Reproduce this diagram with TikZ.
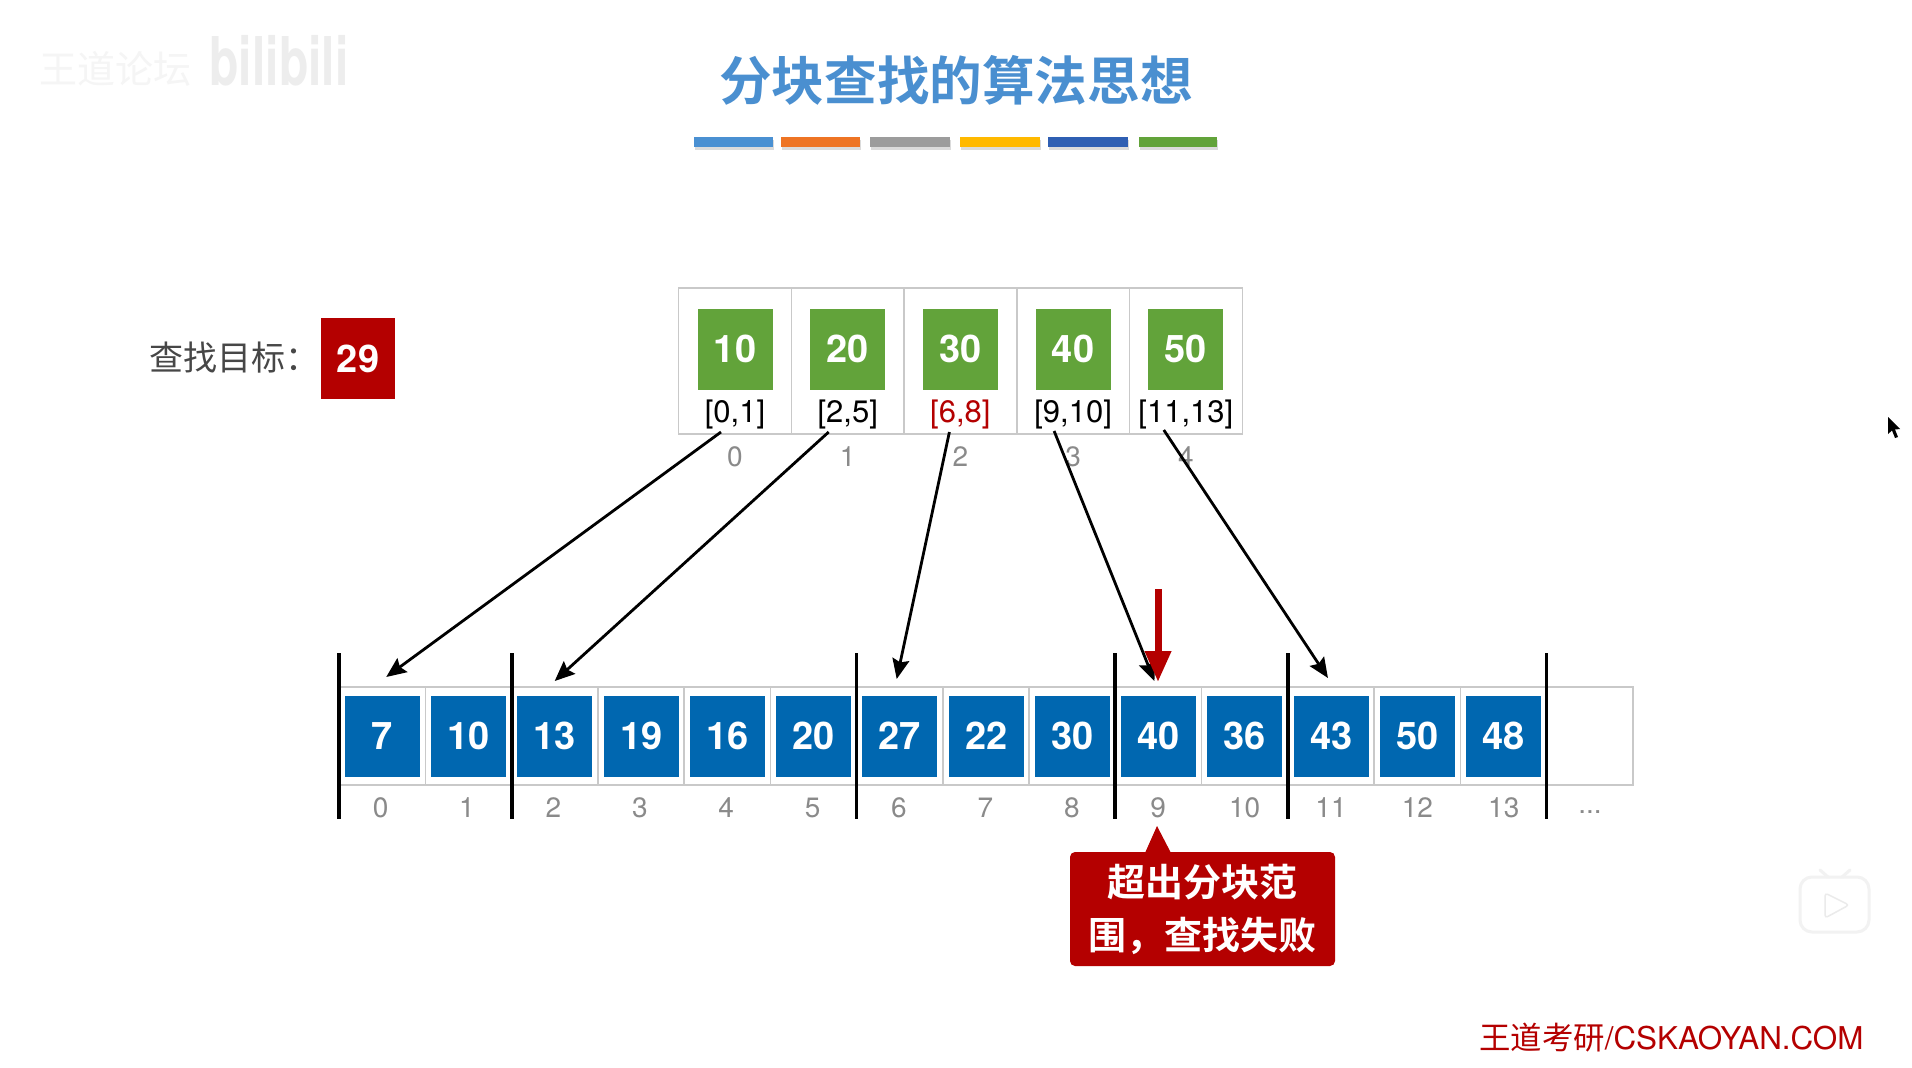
\documentclass[tikz,border=0pt]{standalone}
\usepackage{fontspec}
\setmainfont{TeX Gyre Heros}
\newfontfamily\cjk{Noto Sans CJK SC}
\newfontfamily\cjkb{Noto Sans CJK SC Bold}
\usetikzlibrary{arrows.meta,shapes.geometric}
\definecolor{titleblue}{HTML}{4A8FD0}
\definecolor{arrblue}{HTML}{0067B0}
\definecolor{idxgreen}{HTML}{62A33A}
\definecolor{darkred}{HTML}{B40000}
\definecolor{gridgray}{HTML}{C9C9C9}
\definecolor{idxgray}{HTML}{8A8A8A}
\newcommand{\fsz}[1]{\fontsize{#1}{#1}\selectfont}
\newcommand{\dn}[1]{\raisebox{-2.6pt}{#1}}
\tikzset{
  gridcell/.style={draw=gridgray,line width=1.4pt,fill=white,inner sep=0pt,outer sep=0pt},
  valbox/.style={inner sep=0pt,outer sep=0pt,minimum width=75pt,minimum height=81pt,text=white,font=\fsz{38}\bfseries},
  rangelabel/.style={inner sep=0pt,font=\fsz{31}},
  idxlabel/.style={inner sep=0pt,text=idxgray,font=\fsz{28}},
  sep/.style={line width=3.2pt,black},
  linkarrow/.style={line width=2.8pt,black,-{Stealth[length=20pt,width=17pt,inset=3pt]}},
}
\begin{document}
\begin{tikzpicture}[x=1pt,y=-1pt]
\useasboundingbox (0,0) rectangle (1912,1068);
\fill[white] (0,0) rectangle (1912,1068);

% faint watermarks
\node[inner sep=0pt,text=black!4,font=\fsz{38}\cjk] (wmA) at (115,69) {王道论坛};
\node[inner sep=0pt,text=black!7,font=\fsz{48}\bfseries] (wmB) at (279,61) {\scalebox{1}[1.4]{bilibili}};

% title
\node[inner sep=0pt,text=titleblue,font=\fsz{52.6}\cjkb] (title) at (956,80) {分块查找的算法思想};
\foreach \n/\xa/\xb/\c in {a/694/773/4A90D2,b/781/860/EE7424,c/870/950/9C9C9C,d/960/1040/FFB900,e/1048/1128/2F5FB3,f/1139/1217/62A33A}{
  \definecolor{barcol}{HTML}{\c}
  \fill[black!14] (\xa+1,139.5) rectangle (\xb+1,149.5);
  \fill[barcol] (\xa,137) rectangle (\xb,147);
}

% target
\node[inner sep=0pt,anchor=west,text=black!72,font=\fsz{34}\cjk] (tlabel) at (149,358) {查找目标：};
\node[inner sep=0pt,fill=darkred,minimum width=74pt,minimum height=81pt,text=white,font=\fsz{38}\bfseries] (target) at (358,358.5) {\dn{29}};

% index table
\foreach \i/\v in {0/10,1/20,3/40,4/50,2/30}{
  \pgfmathsetmacro{\cx}{735+112.7*\i}
  \node[gridcell,minimum width=112.8pt,minimum height=146pt] (t\i) at (\cx,361) {};
  \node[valbox,fill=idxgreen] (g\i) at (\cx,349) {\dn{\v}};
  \node[idxlabel] (ti\i) at (\cx,457) {\i};
}
\foreach \i/\r/\c in {0/{[0,1]}/black,1/{[2,5]}/black,2/{[6,8]}/darkred,3/{[9,10]}/black,4/{[11,13]}/black}{
  \pgfmathsetmacro{\cx}{735+112.7*\i}
  \node[rangelabel,text=\c] (r\i) at (\cx,414.5) {\r};
}

% main array
\foreach \i in {0,...,14}{
  \pgfmathsetmacro{\cx}{382.2+86.25*\i}
  \node[gridcell,minimum width=86.25pt,minimum height=98pt] (c\i) at (\cx,736) {};
}
\foreach \i/\v in {0/7,1/10,2/13,3/19,4/16,5/20,6/27,7/22,8/30,9/40,10/36,11/43,12/50,13/48}{
  \pgfmathsetmacro{\cx}{382.4+86.25*\i}
  \pgfmathsetmacro{\lx}{380.6+86.4*\i}
  \node[valbox,fill=arrblue] (b\i) at (\cx,736) {\dn{\v}};
  \node[idxlabel] (ci\i) at (\lx,808) {\i};
}
\node[idxlabel] (cdots) at (1590,812) {...};

% block separators
\foreach \i/\x in {0/339,1/512,2/856.5,3/1115,4/1288,5/1546.5}{
  \coordinate (st\i) at (\x,653);
  \coordinate (sb\i) at (\x,819);
  \draw[sep] (st\i) -- (sb\i);
}

% links
\draw[linkarrow] ([xshift=-14pt,yshift=2pt]t0.south) -- ([xshift=4pt,yshift=10pt]c0.north);
\draw[linkarrow] ([xshift=-19pt,yshift=2pt]t1.south) -- ([xshift=0pt,yshift=6pt]c2.north);
\draw[linkarrow] ([xshift=-11pt,yshift=2pt]t2.south) -- ([xshift=-3pt,yshift=8pt]c6.north);
\draw[linkarrow] ([xshift=-19pt,yshift=3pt]t3.south) -- ([xshift=-4pt,yshift=6pt]c9.north);
\draw[linkarrow] ([xshift=-22pt,yshift=4pt]t4.south) -- ([xshift=-3pt,yshift=9pt]c11.north);

% red pointer
\coordinate (ptr) at (1158,589);
\draw[line width=7pt,darkred,-{Triangle[length=31pt,width=25pt]}] (ptr) -- ([yshift=5pt]c9.north-|ptr);

% callout
\node[inner sep=0pt,fill=darkred,rounded corners=5pt,minimum width=265pt,minimum height=114pt,text=white,align=center,font=\fsz{38}\cjkb] (callout) at (1202.5,909) {超出分块范\\[15pt]围，查找失败};
\fill[darkred] (1145,853) -- (1157,826) -- (1171,853) -- cycle;

% footer
\node[inner sep=0pt,anchor=west,text=darkred,font=\fsz{31.4}] (footer) at (1479,1038) {{\cjk 王道考研}/CSKAOYAN.COM};

% cursor
\fill[black] (1888,417) -- (1888,434) -- (1892,430.5) -- (1895,438) -- (1898,437) -- (1895,429.5) -- (1900,429) -- cycle;

% TV badge
\draw[black!5,line width=3pt,fill=white,rounded corners=12pt] (1800,877) rectangle (1869,932);
\draw[black!5,line width=3pt,line cap=round] (1820,870) -- (1828,877) (1850,870) -- (1842,877);
\draw[black!8,line width=1.5pt,rounded corners=3pt] (1825,893) -- (1849,905) -- (1825,918) -- cycle;
\end{tikzpicture}
\end{document}
